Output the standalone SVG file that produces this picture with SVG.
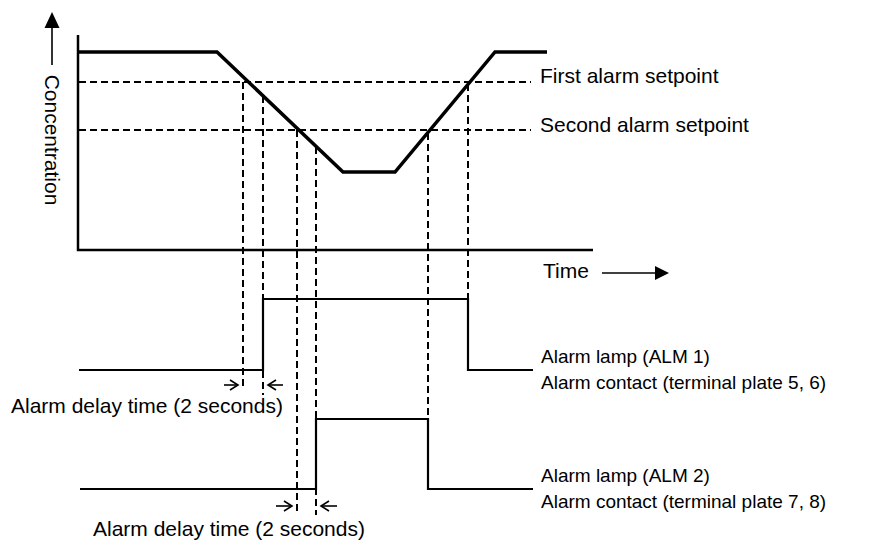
<svg xmlns="http://www.w3.org/2000/svg" width="872" height="545" viewBox="0 0 872 545">
<style>
text{font-family:"Liberation Sans",Arial,sans-serif;font-size:21px;fill:#000}
text.lbl{font-size:19px}
.dash{fill:none;stroke:#000;stroke-width:2;stroke-dasharray:7 4}
.axis{fill:none;stroke:#000;stroke-width:2.5}
.curve{fill:none;stroke:#000;stroke-width:3.5;stroke-linejoin:miter}
.pulse{fill:none;stroke:#000;stroke-width:2.2}
.thin{fill:none;stroke:#000;stroke-width:1.6}
</style>
<rect width="872" height="545" fill="#fff"/>
<g id="axes">
<polyline class="axis" points="78,35 78,250 593,250"/>
<line class="thin" x1="52" y1="27" x2="52" y2="65"/>
<polygon points="52,12 44.5,28 59.5,28" fill="#000"/>
<text transform="translate(45,140) rotate(90)" text-anchor="middle">Concentration</text>
<line class="thin" x1="602" y1="273" x2="656" y2="273"/>
<polygon points="669,273 655,266 655,280" fill="#000"/>
<text x="543" y="278">Time</text>
</g>
<g id="connectors">
<line class="dash" x1="79" y1="82" x2="531" y2="82"/>
<line class="dash" x1="79" y1="130" x2="531" y2="130"/>
<line class="dash" x1="243" y1="82" x2="243" y2="390"/>
<line class="dash" x1="263" y1="96" x2="263" y2="395"/>
<line class="dash" x1="297" y1="130" x2="297" y2="515"/>
<line class="dash" x1="316" y1="147" x2="316" y2="515"/>
<line class="dash" x1="428" y1="133" x2="428" y2="419"/>
<line class="dash" x1="468" y1="84" x2="468" y2="299"/>
</g>
<g id="concentration-curve">
<polyline class="curve" points="79,52 217,52 343,172 395,172 495,52 547,52"/>
<text x="540" y="83">First alarm setpoint</text>
<text x="540" y="132">Second alarm setpoint</text>
</g>
<g id="alarm1">
<polyline class="pulse" points="79,370 263,370 263,299 468,299 468,370 533,370"/>
<text class="lbl" x="541" y="363">Alarm lamp (ALM 1)</text>
<text class="lbl" x="541" y="389">Alarm contact (terminal plate 5, 6)</text>
</g>
<g id="delay1">
<line class="thin" x1="224" y1="385" x2="238" y2="385"/>
<polyline class="thin" points="230,380 238,385 230,390"/>
<line class="thin" x1="268" y1="385" x2="283" y2="385"/>
<polyline class="thin" points="276,380 268,385 276,390"/>
<text x="11" y="413">Alarm delay time (2 seconds)</text>
</g>
<g id="alarm2">
<polyline class="pulse" points="80,489 316,489 316,419 428,419 428,489 533,489"/>
<text class="lbl" x="541" y="482">Alarm lamp (ALM 2)</text>
<text class="lbl" x="541" y="508">Alarm contact (terminal plate 7, 8)</text>
</g>
<g id="delay2">
<line class="thin" x1="276" y1="506" x2="292" y2="506"/>
<polyline class="thin" points="284,501 292,506 284,511"/>
<line class="thin" x1="321" y1="506" x2="337" y2="506"/>
<polyline class="thin" points="329,501 321,506 329,511"/>
<text x="93" y="536">Alarm delay time (2 seconds)</text>
</g>
</svg>
